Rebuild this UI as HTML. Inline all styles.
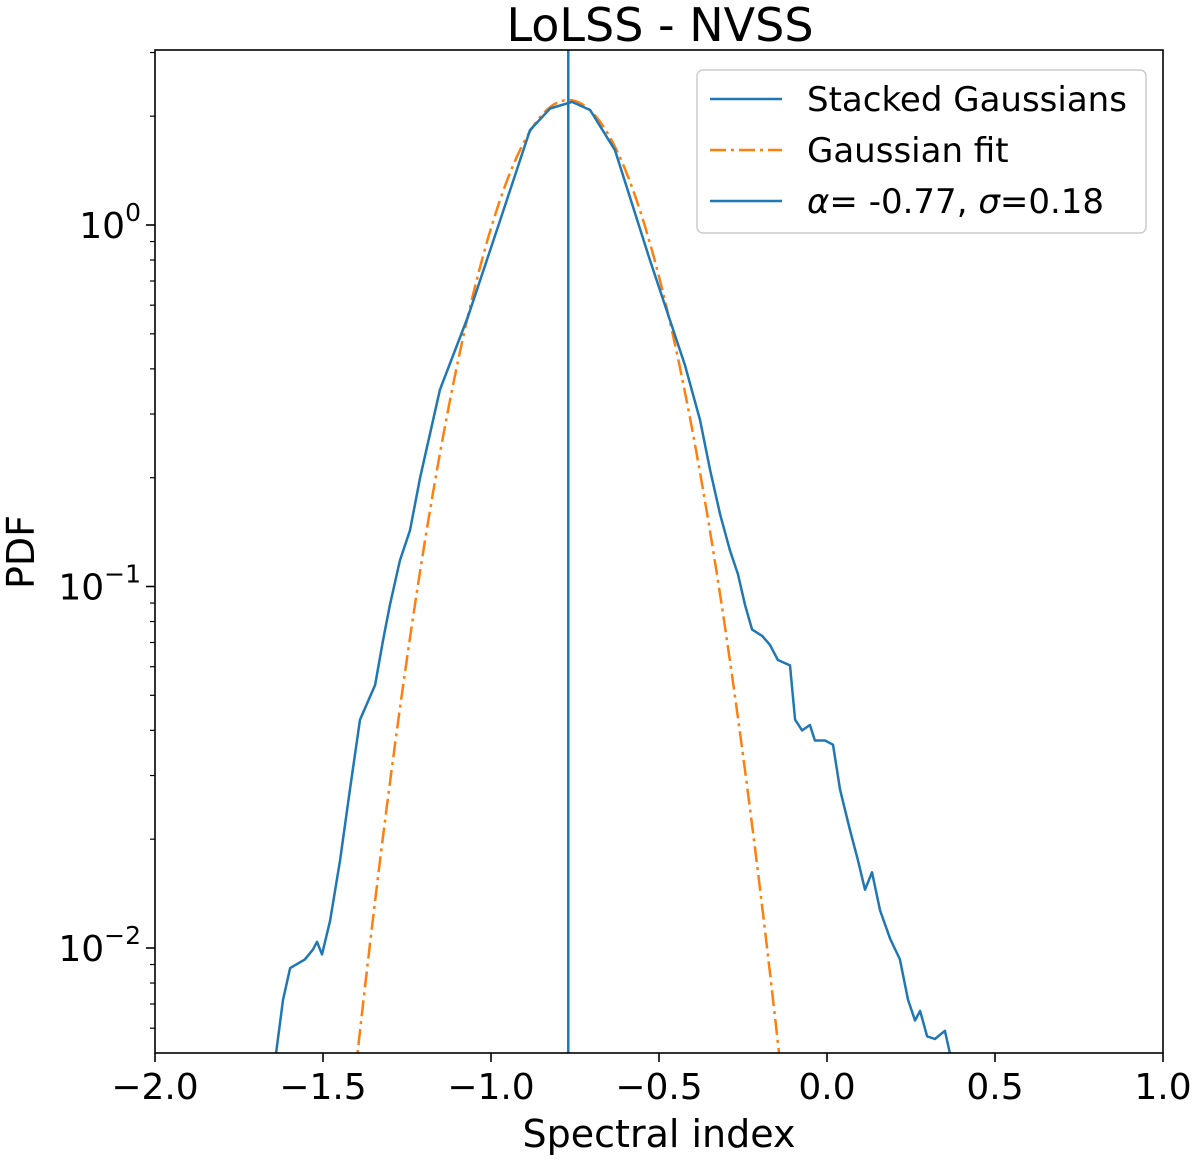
<!DOCTYPE html>
<html><head><meta charset="utf-8"><style>
html,body{margin:0;padding:0;background:#fff;overflow:hidden;width:1200px;height:1162px}
svg{display:block}
svg text{font-family:"DejaVu Sans","Liberation Sans",sans-serif;fill:#000}
</style></head><body>
<svg id="chart" width="1200" height="1162" xmlns="http://www.w3.org/2000/svg">
<text x="660" y="41" font-size="46" text-anchor="middle">LoLSS - NVSS</text>
<text x="659" y="1147" font-size="38" text-anchor="middle">Spectral index</text>
<text transform="translate(34,552) rotate(-90)" font-size="38" text-anchor="middle">PDF</text>
<g id="plot"></g>
</svg>
<script>
const xTicks=[-2.0,-1.5,-1.0,-0.5,0.0,0.5,1.0];
const xTickLabels=["\u22122.0","\u22121.5","\u22121.0","\u22120.5","0.0","0.5","1.0"];
const yTickExps=[-2,-1,0];
const fitAlpha=[-0.77];
const fitSigma=[0.18];
const stackedX=[-1.64,-1.619,-1.598,-1.554,-1.530,-1.518,-1.503,-1.479,-1.449,-1.420,-1.390,-1.345,-1.321,-1.301,-1.271,-1.241,-1.211,-1.152,-1.068,-0.973,-0.884,-0.824,-0.759,-0.705,-0.631,-0.527,-0.423,-0.378,-0.348,-0.318,-0.289,-0.265,-0.244,-0.223,-0.193,-0.170,-0.146,-0.110,-0.095,-0.074,-0.051,-0.036,-0.006,0.018,0.039,0.068,0.092,0.113,0.134,0.158,0.188,0.217,0.241,0.262,0.277,0.298,0.321,0.351,0.366];
const stackedY=[0.0051,0.00718,0.0088,0.0093,0.0099,0.0104,0.0096,0.0119,0.0175,0.0274,0.0428,0.0534,0.0711,0.0889,0.118,0.143,0.2,0.35,0.56,1.03,1.83,2.1,2.19,2.08,1.61,0.80,0.41,0.289,0.21,0.158,0.126,0.108,0.089,0.076,0.073,0.069,0.0626,0.0605,0.0428,0.040,0.0414,0.0375,0.0375,0.0365,0.0274,0.0213,0.0175,0.0145,0.0162,0.0127,0.0106,0.0093,0.0072,0.0063,0.0067,0.0057,0.0056,0.0059,0.0051];
const L=155,R=1163,T=50,B=1053;
const xMin=-2,xMax=1,y0=225,dec=361.5;
const X=v=>L+(v-xMin)/(xMax-xMin)*(R-L);
const Y=v=>y0-Math.log10(v)*dec;
const NS="http://www.w3.org/2000/svg";
const g=document.getElementById('plot');
function mk(t,a,p){const e=document.createElementNS(NS,t);for(const k in a)e.setAttribute(k,a[k]);(p||g).appendChild(e);return e;}
const defs=mk('defs',{});const cp=mk('clipPath',{id:'cp'},defs);mk('rect',{x:L,y:T,width:R-L,height:B-T},cp);
const cg=mk('g',{'clip-path':'url(#cp)'});
let fp=[];const a=fitAlpha[0],s=fitSigma[0];
for(let i=0;i<=600;i++){const x=-1.5+i*1.5/600;const y=Math.exp(-0.5*((x-a)/s)**2)/(s*Math.sqrt(2*Math.PI));fp.push(X(x).toFixed(1)+','+Y(y).toFixed(1));}
const fit=mk('polyline',{points:fp.join(' '),fill:'none',stroke:'#ff7f0e','stroke-width':2.5,'stroke-dasharray':'16,5,3,5'},cg);


const sp=stackedX.map((x,i)=>X(x).toFixed(1)+','+Y(stackedY[i]).toFixed(1));
const st=mk('polyline',{points:sp.join(' '),fill:'none',stroke:'#1f77b4','stroke-width':2.5,'stroke-linejoin':'round'},cg);


const vl=mk('line',{x1:X(a),x2:X(a),y1:T,y2:B,stroke:'#1f77b4','stroke-width':2.5},cg);


const fr=mk('rect',{x:L,y:T,width:R-L,height:B-T,fill:'none',stroke:'#000','stroke-width':1.6});


xTicks.forEach((v,i)=>{mk('line',{x1:X(v),x2:X(v),y1:B,y2:B+9,stroke:'#000','stroke-width':1.6});
const t=mk('text',{x:X(v),y:B+46,'font-size':36,'text-anchor':'middle'});t.textContent=xTickLabels[i];

});
yTickExps.forEach(e=>{const py=Y(Math.pow(10,e));mk('line',{x1:L-9,x2:L,y1:py,y2:py,stroke:'#000','stroke-width':1.6});
const t=mk('text',{x:L-14,y:py+13,'font-size':36,'text-anchor':'end'});


const s1=mk('tspan',{},t);s1.textContent='10';const s2=mk('tspan',{dy:-17,'font-size':25},t);s2.textContent=e===0?'0':'\u2212'+(-e);});
for(let e=-3;e<=0;e++)for(let m=2;m<=9;m++){const v=m*Math.pow(10,e);const py=Y(v);if(py>T&&py<B)mk('line',{x1:L-5,x2:L,y1:py,y2:py,stroke:'#000','stroke-width':1.2});}
const lg=mk('g',{});


mk('rect',{x:697,y:70,width:449,height:163,rx:6,fill:'#fff',stroke:'#ccc','stroke-width':1.5},lg);
const ents=[['Stacked Gaussians','#1f77b4',null],['Gaussian fit','#ff7f0e','16,5,3,5'],['alpha','#1f77b4',null]];
ents.forEach((en,i)=>{const yy=99+i*51;const ln=mk('line',{x1:710,x2:782,y1:yy,y2:yy,stroke:en[1],'stroke-width':2.5},lg);if(en[2])ln.setAttribute('stroke-dasharray',en[2]);
const t=mk('text',{x:807,y:yy+12,'font-size':34},lg);
if(en[0]==='alpha'){const a1=mk('tspan',{'font-style':'italic'},t);a1.textContent='\u03b1';const a2=mk('tspan',{},t);a2.textContent='= -0.77, ';const a3=mk('tspan',{'font-style':'italic'},t);a3.textContent='\u03c3';const a4=mk('tspan',{},t);a4.textContent='=0.18';}
else t.textContent=en[0];

});
</script>
</body></html>
